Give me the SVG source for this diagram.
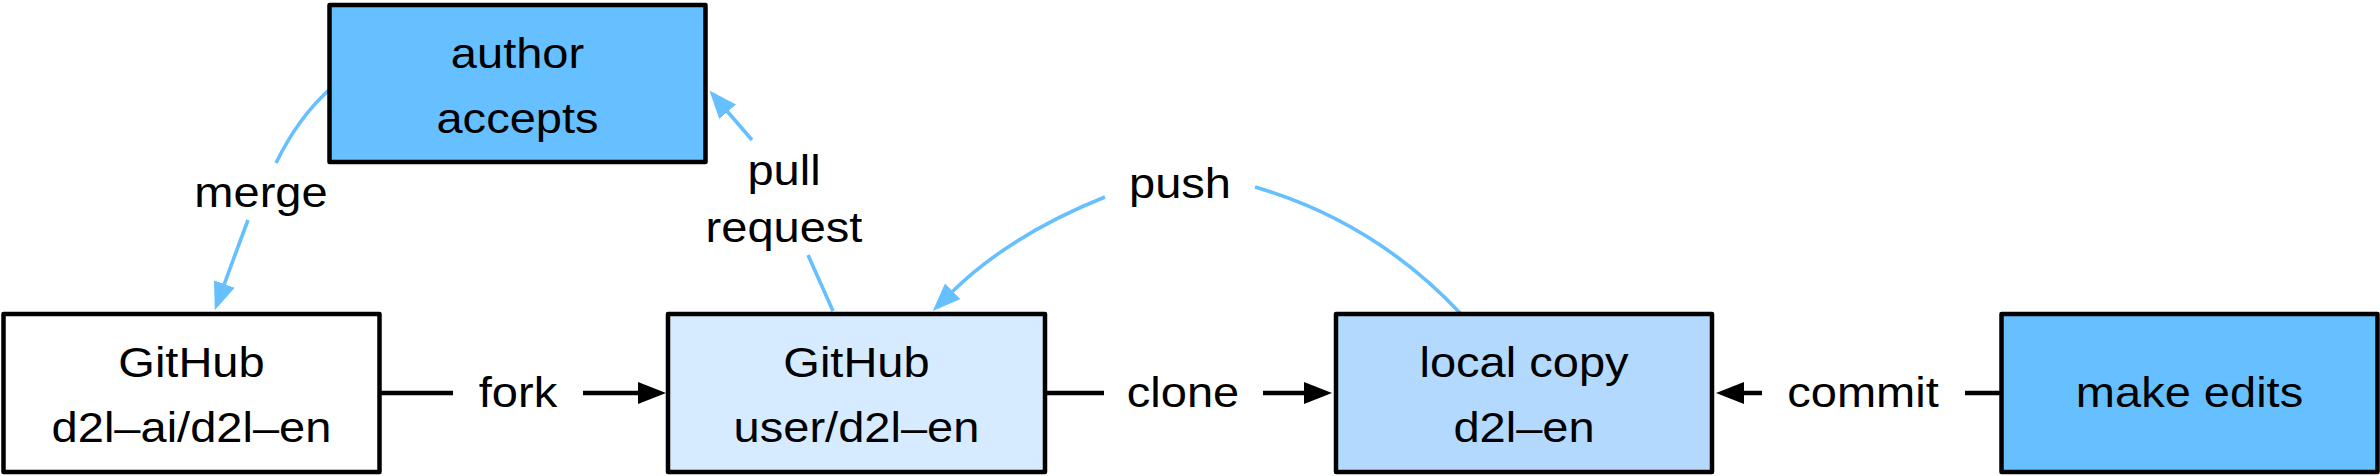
<svg xmlns="http://www.w3.org/2000/svg" width="2380" height="476" viewBox="0 0 2380 476">
  <style>
    .box { stroke: #000; stroke-width: 4.5; stroke-linejoin: round; }
    .t { font-family: "Liberation Sans", Arial, Helvetica, sans-serif; font-size: 42px; fill: #000; text-anchor: middle; }
    .blk { fill: none; stroke: #000; stroke-width: 4.5; }
    .blu { fill: none; stroke: #66BFFF; stroke-width: 3.6; }
  </style>
  <defs>
    <marker id="ah-black" markerUnits="userSpaceOnUse" viewBox="0 0 28 22" markerWidth="28" markerHeight="22" refX="1" refY="11" orient="auto">
      <path d="M0,0 L28,11 L0,22 Z" fill="#000"/>
    </marker>
    <marker id="ah-blue" markerUnits="userSpaceOnUse" viewBox="0 0 28 22" markerWidth="28" markerHeight="22" refX="1" refY="11" orient="auto">
      <path d="M0,0 L28,11 L0,22 Z" fill="#66BFFF"/>
    </marker>
  </defs>
  <rect width="2380" height="476" fill="#fff"/>

  <g id="connectors">
    <!-- fork -->
    <path class="blk" d="M379,393 L453,393"/>
    <path class="blk" d="M583,393 L639,393" marker-end="url(#ah-black)"/>
    <text class="t" transform="translate(518 0) scale(1.12 1)" y="407">fork</text>
    <!-- clone -->
    <path class="blk" d="M1046,393 L1104,393"/>
    <path class="blk" d="M1263,393 L1305,393" marker-end="url(#ah-black)"/>
    <text class="t" transform="translate(1183 0) scale(1.12 1)" y="407">clone</text>
    <!-- commit -->
    <path class="blk" d="M2001,393 L1965,393"/>
    <path class="blk" d="M1762,393 L1743,393" marker-end="url(#ah-black)"/>
    <text class="t" transform="translate(1863 0) scale(1.12 1)" y="407">commit</text>
    <!-- merge -->
    <path class="blu" d="M329,90 Q298,118 276,163"/>
    <path class="blu" d="M248,220 Q236,252 224,285" marker-end="url(#ah-blue)"/>
    <text class="t" transform="translate(261 0) scale(1.12 1)" y="207">merge</text>
    <!-- pull request -->
    <path class="blu" d="M833,311 L808,255"/>
    <path class="blu" d="M752,140 L727,111" marker-end="url(#ah-blue)"/>
    <text class="t" transform="translate(784 0) scale(1.12 1)" y="185">pull</text>
    <text class="t" transform="translate(784 0) scale(1.12 1)" y="242">request</text>
    <!-- push -->
    <path class="blu" d="M1461,314 Q1375,222 1255,187"/>
    <path class="blu" d="M1105,197 Q1010,235 952,292" marker-end="url(#ah-blue)"/>
    <text class="t" transform="translate(1180 0) scale(1.12 1)" y="198">push</text>
  </g>

  <g id="node-upstream">
    <rect class="box" x="3.5" y="314" width="376" height="158" fill="#FFFFFF"/>
    <text class="t" transform="translate(191.5 0) scale(1.12 1)" y="377">GitHub</text>
    <text class="t" transform="translate(191.5 0) scale(1.12 1)" y="442">d2l–ai/d2l–en</text>
  </g>
  <g id="node-author">
    <rect class="box" x="329.5" y="5" width="376" height="157" fill="#66BFFF"/>
    <text class="t" transform="translate(517.5 0) scale(1.12 1)" y="68">author</text>
    <text class="t" transform="translate(517.5 0) scale(1.12 1)" y="133">accepts</text>
  </g>
  <g id="node-fork">
    <rect class="box" x="668" y="314" width="377" height="158" fill="#D6EBFF"/>
    <text class="t" transform="translate(856.5 0) scale(1.12 1)" y="377">GitHub</text>
    <text class="t" transform="translate(856.5 0) scale(1.12 1)" y="442">user/d2l–en</text>
  </g>
  <g id="node-local">
    <rect class="box" x="1336" y="314" width="376" height="158" fill="#B3D9FF"/>
    <text class="t" transform="translate(1524 0) scale(1.12 1)" y="377">local copy</text>
    <text class="t" transform="translate(1524 0) scale(1.12 1)" y="442">d2l–en</text>
  </g>
  <g id="node-edits">
    <rect class="box" x="2001.5" y="314" width="376" height="158" fill="#66BFFF"/>
    <text class="t" transform="translate(2189.5 0) scale(1.12 1)" y="407">make edits</text>
  </g>
</svg>
